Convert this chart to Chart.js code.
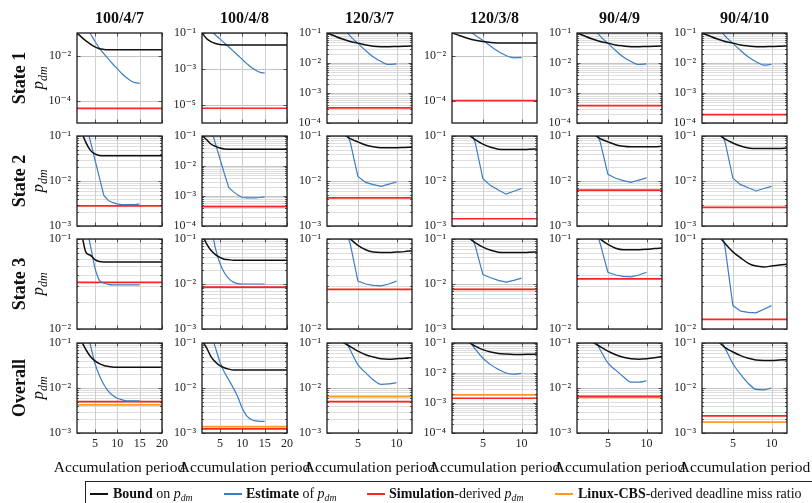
<!DOCTYPE html>
<html>
<head>
<meta charset="utf-8">
<script src="https://cdn.jsdelivr.net/npm/chart.js@4.4.1/dist/chart.umd.min.js"></script>
<style>
  body { margin: 0; background: #fff; }
  #wrap { position: relative; width: 812px; height: 503px; overflow: hidden; background: #fff;
          font-family: 'Liberation Serif', 'Times New Roman', serif; color: #111; }
  #wrap canvas { position: absolute; }
  .lbl { position: absolute; white-space: nowrap; transform: translate(-50%, -50%); line-height: 1; }
  .rot { transform: translate(-50%, -50%) rotate(-90deg); }
  .sub { font-size: 70%; font-style: italic; position: relative; top: 0.3em; }
  .leg { position: absolute; white-space: nowrap; font-size: 14px; line-height: 1; transform: translateY(-50%); }
  .legline { position: absolute; width: 18px; }
</style>
</head>
<body>
<div id="wrap"></div>
<script>
// ---- data ----
const configs = ["100/4/7", "100/4/8", "120/3/7", "120/3/8", "90/4/9", "90/4/10"];
const rowNames = ["State 1", "State 2", "State 3", "Overall"];

const xBoundLong = [1, 2, 3, 4, 5, 6, 7, 8, 10, 12, 14, 16, 18, 20];
const xBoundShort = [1, 2, 3, 4, 5, 6, 7, 8, 9, 10, 11, 12];
const xEstLong = [3, 4, 5, 6, 7, 8, 9, 10, 11, 12, 13, 14, 15];
const xEstShort = [3, 4, 5, 6, 7, 8, 9, 10];
const xTicksLong = [5, 10, 15, 20];
const xTicksShort = [5, 10];

// y ranges (min, max is 1e-1 everywhere)
const yMinState1 = [1e-5, 1e-6, 1e-4, 1e-5, 1e-4, 1e-4];
const yMinState2 = [1e-3, 1e-4, 1e-3, 1e-3, 1e-3, 1e-3];
const yMinState3 = [1e-2, 1e-3, 1e-2, 1e-3, 1e-2, 1e-2];
const yMinOverall = [1e-3, 1e-3, 1e-3, 1e-4, 1e-3, 1e-3];
const yMax = 1e-1;
// only some panels label every other decade (null = every decade + minor grid)
const yLabelsState1 = [[1e-4, 1e-2], [1e-5, 1e-3, 1e-1], null, [1e-4, 1e-2], null, null];

// State 1
const boundState1 = [
  [0.1, 0.066, 0.045, 0.032, 0.024, 0.02, 0.0186, 0.018, 0.018, 0.018, 0.018, 0.018, 0.018, 0.018],
  [0.1, 0.05, 0.033, 0.026, 0.023, 0.022, 0.0214, 0.0214, 0.0214, 0.0214, 0.0214, 0.0214, 0.0214, 0.0214],
  [0.1, 0.079, 0.063, 0.052, 0.046, 0.04, 0.036, 0.035, 0.035, 0.0355, 0.036, 0.037],
  [0.1, 0.076, 0.059, 0.048, 0.042, 0.038, 0.0363, 0.0355, 0.0355, 0.0355, 0.0355, 0.0355],
  [0.1, 0.079, 0.063, 0.052, 0.046, 0.04, 0.037, 0.035, 0.035, 0.0355, 0.036, 0.037],
  [0.1, 0.079, 0.063, 0.052, 0.046, 0.04, 0.037, 0.035, 0.035, 0.0355, 0.036, 0.037]
];
const estState1 = [
  [0.2, 0.093, 0.043, 0.0214, 0.012, 0.0071, 0.0042, 0.0026, 0.00158, 0.00105, 0.00076, 0.00062, 0.00058],
  [0.126, 0.078, 0.047, 0.028, 0.0166, 0.0098, 0.0058, 0.0034, 0.002, 0.00126, 0.00085, 0.00065, 0.00059],
  [0.158, 0.079, 0.045, 0.026, 0.0158, 0.0112, 0.0089, 0.0093],
  [0.141, 0.079, 0.047, 0.026, 0.0151, 0.01, 0.0079, 0.0081],
  [0.158, 0.079, 0.045, 0.026, 0.0158, 0.0112, 0.0089, 0.0093],
  [0.158, 0.079, 0.045, 0.026, 0.0158, 0.011, 0.0085, 0.0091]
];
const simState1 = [4.5e-5, 6.6e-6, 3.2e-4, 1e-4, 3.8e-4, 1.9e-4];

// State 2
const boundState2 = [
  [0.25, 0.126, 0.071, 0.048, 0.04, 0.037, 0.0363, 0.0363, 0.0363, 0.0363, 0.0363, 0.0363, 0.0363, 0.0363],
  [0.105, 0.076, 0.054, 0.045, 0.04, 0.037, 0.0363, 0.0363, 0.0363, 0.0363, 0.0363, 0.0363, 0.0363, 0.0363],
  [0.25, 0.178, 0.117, 0.087, 0.074, 0.063, 0.0575, 0.055, 0.055, 0.055, 0.0556, 0.0562],
  [0.25, 0.17, 0.112, 0.083, 0.066, 0.056, 0.051, 0.05, 0.05, 0.05, 0.0507, 0.0513],
  [0.25, 0.178, 0.117, 0.087, 0.074, 0.064, 0.059, 0.0575, 0.0575, 0.0575, 0.058, 0.059],
  [0.25, 0.175, 0.115, 0.085, 0.07, 0.06, 0.054, 0.0525, 0.0525, 0.0525, 0.053, 0.054]
];
const estState2 = [
  [0.178, 0.076, 0.03, 0.012, 0.0048, 0.0037, 0.0033, 0.0031, 0.003, 0.003, 0.003, 0.003, 0.0031],
  [0.178, 0.056, 0.0178, 0.0056, 0.0019, 0.0014, 0.00107, 0.00089, 0.00087, 0.00087, 0.00087, 0.00089, 0.00093],
  [0.2, 0.074, 0.0126, 0.0093, 0.0083, 0.0076, 0.0085, 0.0095],
  [0.2, 0.072, 0.0112, 0.0079, 0.0063, 0.0051, 0.0059, 0.0068],
  [0.2, 0.074, 0.0141, 0.0115, 0.0102, 0.0093, 0.0105, 0.0117],
  [0.2, 0.072, 0.0115, 0.0083, 0.0071, 0.006, 0.0068, 0.0076]
];
const simState2 = [2.8e-3, 4.4e-4, 4.2e-3, 1.45e-3, 6.3e-3, 2.6e-3];

// State 3
const boundState3 = [
  [0.16, 0.115, 0.071, 0.066, 0.059, 0.0562, 0.0556, 0.0556, 0.0556, 0.0556, 0.0556, 0.0556, 0.0556, 0.0556],
  [0.126, 0.079, 0.056, 0.045, 0.039, 0.0355, 0.0347, 0.0339, 0.0339, 0.0339, 0.0339, 0.0339, 0.0339, 0.0339],
  [0.2, 0.15, 0.117, 0.1, 0.085, 0.076, 0.0716, 0.0708, 0.0708, 0.0716, 0.0724, 0.0741],
  [0.25, 0.17, 0.112, 0.083, 0.066, 0.056, 0.051, 0.05, 0.05, 0.05, 0.0507, 0.0513],
  [0.2, 0.15, 0.117, 0.1, 0.087, 0.079, 0.076, 0.076, 0.076, 0.0767, 0.0785, 0.0794],
  [0.2, 0.15, 0.112, 0.089, 0.072, 0.0617, 0.0537, 0.05, 0.049, 0.05, 0.0513, 0.0525]
];
const estState3 = [
  [0.14, 0.085, 0.048, 0.0347, 0.0324, 0.0313, 0.0309, 0.0309, 0.0309, 0.0309, 0.0309, 0.0309, 0.0309],
  [0.2, 0.063, 0.029, 0.0178, 0.0132, 0.011, 0.0102, 0.01, 0.01, 0.01, 0.01, 0.01, 0.01],
  [0.158, 0.089, 0.034, 0.0316, 0.0306, 0.0302, 0.0316, 0.034],
  [0.2, 0.071, 0.0162, 0.0138, 0.012, 0.011, 0.012, 0.0135],
  [0.158, 0.089, 0.0427, 0.0398, 0.0385, 0.038, 0.0398, 0.0427],
  [0.2, 0.079, 0.0182, 0.0158, 0.0153, 0.0151, 0.0166, 0.0182]
];
const simState3 = [3.3e-2, 8.5e-3, 2.76e-2, 7.6e-3, 3.6e-2, 1.28e-2];

// Overall
const boundOverall = [
  [0.141, 0.107, 0.071, 0.05, 0.04, 0.0347, 0.0316, 0.0302, 0.0288, 0.0288, 0.0288, 0.0288, 0.0288, 0.0288],
  [0.112, 0.079, 0.05, 0.038, 0.0316, 0.0282, 0.0263, 0.0251, 0.0251, 0.0251, 0.0251, 0.0251, 0.0251, 0.0251],
  [0.178, 0.135, 0.105, 0.083, 0.066, 0.055, 0.049, 0.0447, 0.0437, 0.0447, 0.0457, 0.0479],
  [0.2, 0.148, 0.112, 0.079, 0.06, 0.05, 0.0447, 0.0427, 0.0417, 0.0417, 0.0422, 0.0427],
  [0.178, 0.135, 0.105, 0.083, 0.066, 0.055, 0.048, 0.0447, 0.0437, 0.0447, 0.0468, 0.05],
  [0.2, 0.148, 0.112, 0.079, 0.063, 0.0525, 0.0457, 0.0417, 0.0407, 0.0407, 0.0417, 0.0427]
];
const estOverall = [
  [0.178, 0.089, 0.0355, 0.019, 0.012, 0.0085, 0.0068, 0.0059, 0.0055, 0.0052, 0.0052, 0.0052, 0.0052],
  [0.158, 0.079, 0.038, 0.0224, 0.0151, 0.01, 0.0063, 0.00355, 0.0024, 0.002, 0.00186, 0.00182, 0.00182],
  [0.158, 0.071, 0.033, 0.0219, 0.0151, 0.012, 0.0123, 0.0132],
  [0.141, 0.063, 0.031, 0.019, 0.0132, 0.01, 0.0091, 0.0098],
  [0.158, 0.071, 0.036, 0.025, 0.0178, 0.0135, 0.0135, 0.0145],
  [0.158, 0.076, 0.0347, 0.02, 0.0126, 0.0093, 0.0091, 0.01]
];
const simOverall = [5.0e-3, 1.23e-3, 5.0e-3, 1.44e-3, 6.5e-3, 2.4e-3];
const cbsOverall = [4.2e-3, 1.38e-3, 6.4e-3, 1.86e-3, 6.2e-3, 1.74e-3];

// ---- layout / style ----
const plotTops = [33, 136, 239, 343];
const plotW = 85, plotH = 90;
const padL = 50, padT = 16, padR = 40;
const colLeft = c => 77 + 125 * c;

const C_BOUND = "#111111";
const C_EST = "#3b7dc4";
const C_SIM = "#ff2424";
const C_CBS = "#ff9a1c";

const bounds = [boundState1, boundState2, boundState3, boundOverall];
const ests = [estState1, estState2, estState3, estOverall];
const sims = [simState1, simState2, simState3, simOverall];
const yMins = [yMinState1, yMinState2, yMinState3, yMinOverall];

const wrap = document.getElementById("wrap");

function isDecade(v) {
    const l = Math.log10(v);
    return Math.abs(l - Math.round(l)) < 1e-9;
}

const supMap = { "-": "\u207B", "0": "\u2070", "1": "\u00B9", "2": "\u00B2", "3": "\u00B3",
                 "4": "\u2074", "5": "\u2075", "6": "\u2076" };
function powLabel(v) {
    const e = String(Math.round(Math.log10(v)));
    return "10" + e.split("").map(ch => supMap[ch]).join("");
}

function yTickValues(min, max) {
    const out = [];
    const e0 = Math.round(Math.log10(min)), e1 = Math.round(Math.log10(max));
    for (let e = e0; e < e1; e++) {
        for (let m = 1; m < 10; m++) out.push(m * Math.pow(10, e));
    }
    out.push(max);
    return out;
}

// grid (painted behind everything already drawn) + black frame with inward ticks
function makeAxesPlugin(xTicks, yTicks) {
    return {
        id: "pgfaxes",
        afterDraw(chart) {
            const { ctx, chartArea: a, scales } = chart;
            const yPix = v => Math.round(scales.y.getPixelForValue(v)) + 0.5;
            const xPix = v => Math.round(scales.x.getPixelForValue(v)) + 0.5;

            // grid: destination-over keeps it underneath the curves and labels
            ctx.save();
            ctx.globalCompositeOperation = "destination-over";
            ctx.lineWidth = 1;
            const line = (x1, y1, x2, y2, color) => {
                ctx.strokeStyle = color;
                ctx.beginPath(); ctx.moveTo(x1, y1); ctx.lineTo(x2, y2); ctx.stroke();
            };
            xTicks.forEach(v => line(xPix(v), a.top, xPix(v), a.bottom, "#cfcfcf"));
            yTicks.filter(v => isDecade(v)).forEach(v => line(a.left, yPix(v), a.right, yPix(v), "#c4c4c4"));
            yTicks.filter(v => !isDecade(v)).forEach(v => line(a.left, yPix(v), a.right, yPix(v), "#dedede"));
            ctx.restore();

            // frame + inward tick marks
            ctx.save();
            ctx.strokeStyle = "#333";
            ctx.lineWidth = 0.8;
            ctx.beginPath();
            xTicks.forEach(v => {
                const px = xPix(v);
                ctx.moveTo(px, a.bottom); ctx.lineTo(px, a.bottom - 3.5);
                ctx.moveTo(px, a.top); ctx.lineTo(px, a.top + 3.5);
            });
            yTicks.forEach(v => {
                const py = yPix(v);
                const len = isDecade(v) ? 3.5 : 2;
                ctx.moveTo(a.left, py); ctx.lineTo(a.left + len, py);
                ctx.moveTo(a.right, py); ctx.lineTo(a.right - len, py);
            });
            ctx.stroke();
            ctx.lineWidth = 1.3;
            ctx.strokeStyle = "#1a1a1a";
            ctx.strokeRect(a.left, a.top, a.right - a.left, a.bottom - a.top);
            ctx.restore();
        }
    };
}

function pts(xs, ys) {
    return ys.map((y, i) => ({ x: xs[i], y: y }));
}

function makePanel(r, c) {
    const long = c < 2;
    const bottom = r === 3;
    const xMax = long ? 20 : 12;
    const xTicks = long ? xTicksLong : xTicksShort;
    const yMin = yMins[r][c];
    const sparse = r === 0 ? yLabelsState1[c] : null;
    const yTicks = sparse ? sparse : yTickValues(yMin, yMax);
    const smooth = r === 0 || r === 3 || (r === 2 && c < 2);
    const xAxisH = bottom ? 22 : 16;

    const w = padL + plotW + padR;
    const h = padT + plotH + xAxisH;
    const canvas = document.createElement("canvas");
    canvas.width = w; canvas.height = h;
    canvas.style.width = w + "px"; canvas.style.height = h + "px";
    canvas.style.left = (colLeft(c) - padL) + "px";
    canvas.style.top = (plotTops[r] - padT) + "px";
    wrap.appendChild(canvas);

    const datasets = [
        {
            label: "Bound",
            data: pts(long ? xBoundLong : xBoundShort, bounds[r][c]),
            borderColor: C_BOUND, borderWidth: 1.5,
            cubicInterpolationMode: "monotone"
        },
        {
            label: "Estimate",
            data: pts(long ? xEstLong : xEstShort, ests[r][c]),
            borderColor: C_EST, borderWidth: 1.2,
            cubicInterpolationMode: smooth ? "monotone" : "default", tension: 0
        },
        {
            label: "Simulation",
            data: [{ x: 1, y: sims[r][c] }, { x: xMax, y: sims[r][c] }],
            borderColor: C_SIM, borderWidth: 1.7
        }
    ];
    if (r === 3) {
        datasets.push({
            label: "Linux-CBS",
            data: [{ x: 1, y: cbsOverall[c] }, { x: xMax, y: cbsOverall[c] }],
            borderColor: C_CBS, borderWidth: 1.7
        });
    }

    new Chart(canvas, {
        type: "line",
        data: { datasets: datasets },
        options: {
            responsive: false,
            animation: false,
            devicePixelRatio: 1,
            elements: { point: { radius: 0 }, line: { fill: false } },
            layout: { padding: { left: 0, top: padT, right: padR, bottom: 0 } },
            plugins: { legend: { display: false }, tooltip: { enabled: false } },
            scales: {
                x: {
                    type: "linear", min: 1, max: xMax,
                    afterBuildTicks: s => { s.ticks = xTicks.map(v => ({ value: v })); },
                    afterFit: s => { s.height = xAxisH; },
                    grid: { display: false, drawTicks: false },
                    border: { display: false },
                    ticks: {
                        display: bottom, autoSkip: false, maxRotation: 0, padding: 4,
                        color: "#222", font: { family: "'Liberation Serif', serif", size: 12 }
                    }
                },
                y: {
                    type: "logarithmic", min: yMin, max: yMax,
                    afterBuildTicks: s => { s.ticks = yTicks.map(v => ({ value: v })); },
                    afterFit: s => { s.width = padL; },
                    grid: { display: false, drawTicks: false },
                    border: { display: false },
                    ticks: {
                        autoSkip: false, padding: 6, color: "#222",
                        font: { family: "'Liberation Serif', 'DejaVu Serif', serif", size: 12 },
                        callback: v => isDecade(v) ? powLabel(v) : ""
                    }
                }
            }
        },
        plugins: [makeAxesPlugin(xTicks, yTicks)]
    });
}

function addText(html, x, y, css, cls) {
    const d = document.createElement("div");
    d.className = cls || "lbl";
    d.innerHTML = html;
    d.style.left = x + "px";
    d.style.top = y + "px";
    d.style.cssText += css;
    wrap.appendChild(d);
}

// panels
for (let r = 0; r < rowNames.length; r++) {
    for (let c = 0; c < configs.length; c++) makePanel(r, c);
}

// column headers + x titles
configs.forEach((name, c) => {
    const cx = colLeft(c) + plotW / 2;
    addText(name, cx, 18, "font-weight:bold;font-size:16px;");
    addText("Accumulation period", cx, 467, "font-size:15.5px;");
});

// row labels
const pdm = '<i>p</i><span class="sub">dm</span>';
rowNames.forEach((name, r) => {
    const cy = plotTops[r] + plotH / 2;
    addText(name, 18.5, cy, "font-weight:bold;font-size:18px;", "lbl rot");
    addText(pdm, 37, cy, "font-size:17px;", "lbl rot");
});

// legend
const legBox = document.createElement("div");
legBox.style.cssText = "position:absolute;left:85px;top:481px;width:760px;height:24px;border:1px solid #222;box-sizing:border-box;";
wrap.appendChild(legBox);
const legendItems = [
    { color: C_BOUND, w: 2, x: 90, tx: 113, html: "<b>Bound</b> on " + pdm },
    { color: C_EST, w: 1.5, x: 224, tx: 246, html: "<b>Estimate</b> of " + pdm },
    { color: C_SIM, w: 2, x: 367, tx: 389, html: "<b>Simulation</b>-derived " + pdm },
    { color: C_CBS, w: 2, x: 555, tx: 578, html: "<b>Linux-CBS</b>-derived deadline miss ratio" }
];
legendItems.forEach(it => {
    const l = document.createElement("div");
    l.className = "legline";
    l.style.left = it.x + "px";
    l.style.top = (494 - it.w / 2) + "px";
    l.style.height = it.w + "px";
    l.style.background = it.color;
    wrap.appendChild(l);
    addText(it.html, it.tx, 494, "", "leg");
});
</script>
</body>
</html>
